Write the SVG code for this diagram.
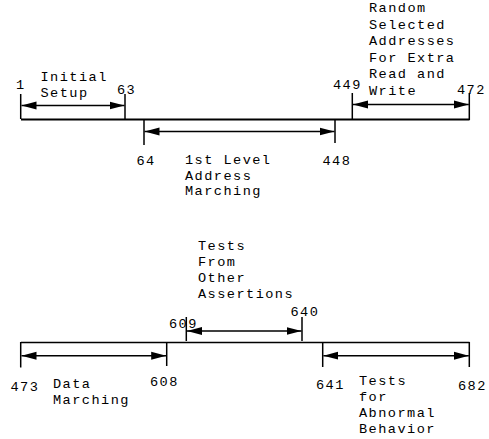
<svg xmlns="http://www.w3.org/2000/svg" width="489" height="439" viewBox="0 0 489 439">
<style>
text{font-family:"Liberation Mono","Courier New",monospace;font-size:13.6px;letter-spacing:1.45px;fill:#000}
.ax{stroke:#000;stroke-width:2;fill:none}
.tk{stroke:#000;stroke-width:1.5;fill:none}
.ar{stroke:#000;stroke-width:1.5;fill:none;marker-start:url(#h);marker-end:url(#h)}
</style>
<defs>
<marker id="h" markerUnits="userSpaceOnUse" markerWidth="16" markerHeight="10" viewBox="0 -5 16 10" refX="15" refY="0" orient="auto-start-reverse">
<path d="M0,-4 L15,0 L0,4 Z" fill="#000"/>
</marker>
</defs>
<g id="connectors">
<line class="ax" x1="21" y1="119.5" x2="469.5" y2="119.5"/>
<line class="ax" x1="21" y1="342.5" x2="469.5" y2="342.5" style="stroke-width:1.6"/>
</g>
<g id="initial-setup">
<line class="tk" x1="20.7" y1="94" x2="20.7" y2="119"/>
<line class="tk" x1="125" y1="94" x2="125" y2="119"/>
<line class="ar" x1="21.5" y1="105.5" x2="124.5" y2="105.5"/>
<text x="16" y="89">1</text>
<text x="117" y="94">63</text>
<text x="40.5" y="81">Initial</text>
<text x="40.5" y="97">Setup</text>
</g>
<g id="address-marching">
<line class="tk" x1="144" y1="120" x2="144" y2="145"/>
<line class="tk" x1="335" y1="120" x2="335" y2="143"/>
<line class="ar" x1="144.5" y1="131.5" x2="334.5" y2="131.5"/>
<text x="136.5" y="165">64</text>
<text x="322.5" y="165">448</text>
<text x="185" y="164">1st Level</text>
<text x="185" y="179.5">Address</text>
<text x="185" y="195">Marching</text>
</g>
<g id="random-selected">
<line class="tk" x1="352.3" y1="93" x2="352.3" y2="119"/>
<line class="tk" x1="469.3" y1="93" x2="469.3" y2="120"/>
<line class="ar" x1="353" y1="104.5" x2="468.8" y2="104.5"/>
<text x="333" y="89">449</text>
<text x="457" y="94">472</text>
<text x="369" y="12">Random</text>
<text x="369" y="28.5">Selected</text>
<text x="369" y="45">Addresses</text>
<text x="369" y="61.5">For Extra</text>
<text x="369" y="78">Read and</text>
<text x="369" y="94.5">Write</text>
</g>
<g id="data-marching">
<line class="tk" x1="20.7" y1="342" x2="20.7" y2="367.5"/>
<line class="tk" x1="166.7" y1="342" x2="166.7" y2="366"/>
<line class="ar" x1="21.5" y1="355.7" x2="166.2" y2="355.7"/>
<text x="10.5" y="391">473</text>
<text x="150" y="386">608</text>
<text x="53" y="388">Data</text>
<text x="53" y="403.5">Marching</text>
</g>
<g id="other-assertions">
<line class="tk" x1="186.3" y1="317" x2="186.3" y2="341"/>
<line class="tk" x1="302" y1="317" x2="302" y2="341"/>
<line class="ar" x1="187" y1="331" x2="301.5" y2="331"/>
<text x="169" y="327.5">609</text>
<text x="290.5" y="316">640</text>
<text x="198" y="250">Tests</text>
<text x="198" y="266">From</text>
<text x="198" y="282">Other</text>
<text x="198" y="298">Assertions</text>
</g>
<g id="abnormal-behavior">
<line class="tk" x1="322.7" y1="342" x2="322.7" y2="367"/>
<line class="tk" x1="469.3" y1="342" x2="469.3" y2="367"/>
<line class="ar" x1="323.4" y1="355.7" x2="468.8" y2="355.7"/>
<text x="316" y="388.5">641</text>
<text x="458" y="389.5">682</text>
<text x="359" y="385">Tests</text>
<text x="359" y="401">for</text>
<text x="359" y="417">Abnormal</text>
<text x="359" y="433">Behavior</text>
</g>
</svg>
